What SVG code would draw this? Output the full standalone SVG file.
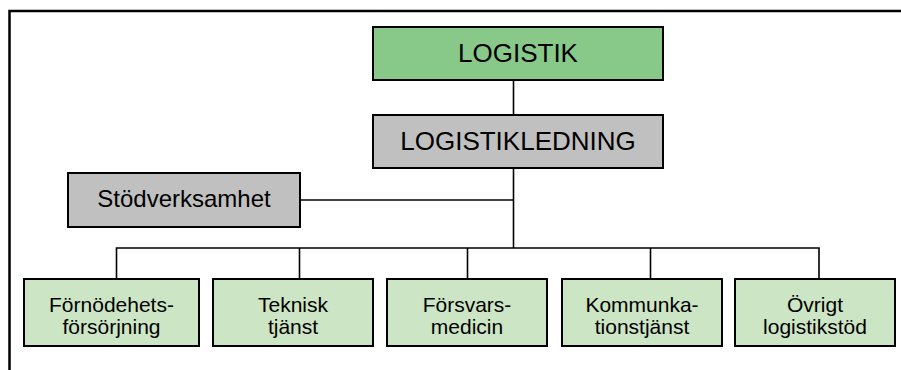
<svg xmlns="http://www.w3.org/2000/svg" width="901" height="370" viewBox="0 0 901 370">
<style>
text{font-family:"Liberation Sans",Arial,sans-serif;fill:#000;text-anchor:middle}
.box{stroke:#000;stroke-width:2}
.top{fill:#88C98A}
.mid{fill:#C0C0C0}
.leaf{fill:#CCE5C5}
.c{stroke:#000;stroke-width:1.6;fill:none}
.big{font-size:26px}
.med{font-size:24px}
.sm{font-size:21px}
</style>
<rect width="901" height="370" fill="#fff"/>
<path d="M9.5,370 V11 H901" fill="none" stroke="#000" stroke-width="2.5"/>
<g id="connectors">
<path class="c" d="M513.5,80 V115"/>
<path class="c" d="M513.5,168 V248"/>
<path class="c" d="M300,200 H513.5"/>
<path class="c" d="M116.5,279 V248 H819 V279"/>
<path class="c" d="M299.5,248 V279"/>
<path class="c" d="M467.5,248 V279"/>
<path class="c" d="M650.5,248 V279"/>
</g>
<g id="logistik">
<rect class="box top" x="373" y="27" width="290" height="53"/>
<text class="big" x="518" y="62">LOGISTIK</text>
</g>
<g id="logistikledning">
<rect class="box mid" x="373" y="115" width="290" height="53"/>
<text class="big" x="518" y="150">LOGISTIKLEDNING</text>
</g>
<g id="stodverksamhet">
<rect class="box mid" x="68" y="173" width="232" height="54"/>
<text class="med" x="184" y="206.5">Stödverksamhet</text>
</g>
<g id="fornodenhet">
<rect class="box leaf" x="24" y="279" width="175" height="67"/>
<text class="sm" x="111.5" y="311.5">Förnödehets-</text>
<text class="sm" x="111.5" y="334">försörjning</text>
</g>
<g id="teknisk">
<rect class="box leaf" x="213" y="279" width="160" height="67"/>
<text class="sm" x="293" y="311.5">Teknisk</text>
<text class="sm" x="293" y="334">tjänst</text>
</g>
<g id="forsvarsmedicin">
<rect class="box leaf" x="387" y="279" width="160" height="67"/>
<text class="sm" x="467" y="311.5">Försvars-</text>
<text class="sm" x="467" y="334">medicin</text>
</g>
<g id="kommunikation">
<rect class="box leaf" x="562" y="279" width="160" height="67"/>
<text class="sm" x="642" y="311.5">Kommunka-</text>
<text class="sm" x="642" y="334">tionstjänst</text>
</g>
<g id="ovrigt">
<rect class="box leaf" x="735" y="279" width="160" height="67"/>
<text class="sm" x="815" y="311.5">Övrigt</text>
<text class="sm" x="815" y="334">logistikstöd</text>
</g>
</svg>
